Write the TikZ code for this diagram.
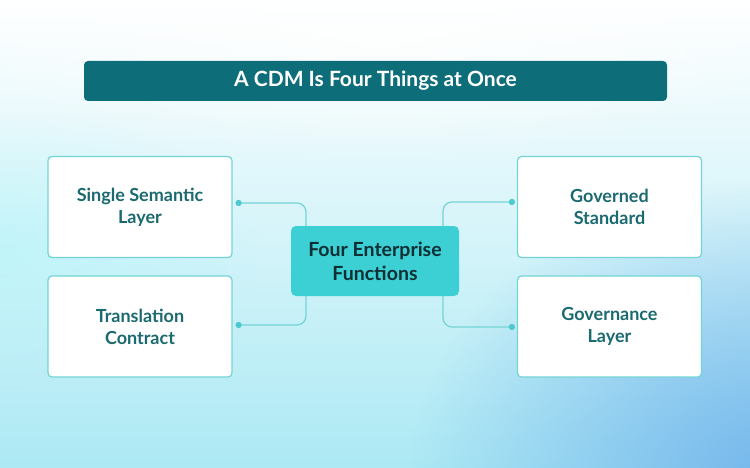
\documentclass[tikz,border=0pt]{standalone}
\usepackage{fontspec}
\setsansfont{Lato}
\definecolor{cdmnavy}{HTML}{0D6E79}
\definecolor{cdmedge}{HTML}{74D4D4}
\definecolor{cdmtext}{HTML}{1B6A70}
\definecolor{cdmhub}{HTML}{3CCFD3}
\definecolor{cdmink}{HTML}{0E2F33}
\definecolor{cdmdot}{HTML}{4CCACD}
\definecolor{bgcyan}{HTML}{ACE9F4}
\definecolor{bgblue}{HTML}{74B6EC}
\usetikzlibrary{positioning,calc,fadings}
\tikzfading[name=glow, inner color=transparent!0, outer color=transparent!100]

\begin{document}
\begin{tikzpicture}[
  x=1pt, y=-1pt,
  font=\sffamily\bfseries,
  titlebar/.style={fill=cdmnavy, rounded corners=4pt, minimum width=583pt, minimum height=40pt, text=white, font=\sffamily\bfseries\fontsize{21}{25}\selectfont},
  fn/.style={draw=cdmedge, line width=1.2pt, rounded corners=4pt, fill=white, minimum width=184pt, minimum height=101pt, align=center, text=cdmtext, font=\sffamily\bfseries\fontsize{18}{22}\selectfont},
  hub/.style={fill=cdmhub, rounded corners=5pt, minimum width=168pt, minimum height=70pt, align=center, text=cdmink, font=\sffamily\bfseries\fontsize{19.5}{24}\selectfont},
  link/.style={draw=cdmedge, line width=1.2pt, rounded corners=9pt},
  knob/.style={circle, fill=cdmdot, inner sep=0pt, minimum size=6pt},
]
  % background
  \useasboundingbox (0,0) rectangle (750,468);
  \shade[top color=white, bottom color=bgcyan, middle color=white!50!bgcyan] (0,0) rectangle (750,468);
  \begin{scope}
    \clip (0,0) rectangle (750,468);
    \fill[bgcyan!70!cyan!60, path fading=glow, opacity=0.5] (0,250) ellipse (260pt and 140pt);
    \fill[bgblue, path fading=glow] (770,480) ellipse (360pt and 300pt);
    \fill[white, path fading=glow, opacity=0.8] (380,40) ellipse (420pt and 120pt);
  \end{scope}

  \node[titlebar] (title) at (375.5,81) {A CDM Is Four Things at Once};
  \node[hub] (hub) at (375,261) {Four Enterprise\\Functions};

  \node[fn] (semantic) at (140,207)    {Single Semantic\\Layer};
  \node[fn] (contract) at (140,326.5)  {Translation\\Contract};
  \node[fn] (standard) at (609.5,207)  {Governed\\Standard};
  \node[fn] (govern) at (609.5,326.5)  {Governance\\Layer};

  % connectors
  \node[knob] (k1) at ($(semantic.east)+(6,-4)$) {};
  \node[knob] (k2) at ($(contract.east)+(6,-1.5)$) {};
  \node[knob] (k3) at ($(standard.west)+(-5,-5)$) {};
  \node[knob] (k4) at ($(govern.west)+(-5,0.5)$) {};
  \draw[link] (k1.center) -| ([xshift=-69pt]hub.north);
  \draw[link] (k2.center) -| ([xshift=-69pt]hub.south);
  \draw[link] (k3.center) -| ([xshift=68pt]hub.north);
  \draw[link] (k4.center) -| ([xshift=68pt]hub.south);
  \node[knob] at (k1) {};
  \node[knob] at (k2) {};
  \node[knob] at (k3) {};
  \node[knob] at (k4) {};
\end{tikzpicture}
\end{document}
